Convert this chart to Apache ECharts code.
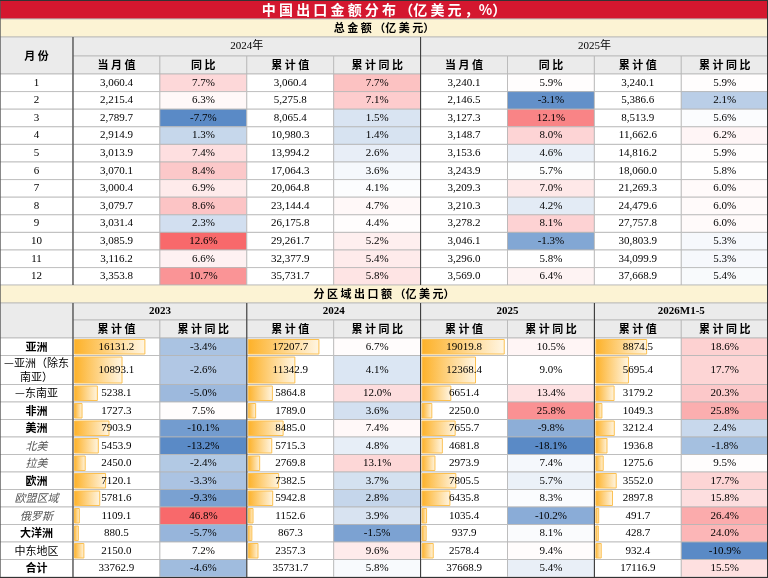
<!DOCTYPE html>
<html><head><meta charset="utf-8">
<script src="https://cdn.jsdelivr.net/npm/echarts@6/dist/echarts.min.js"></script>
<style>html,body{margin:0;padding:0;background:#fff}#chart{width:768px;height:578px}</style>
</head><body><div id="chart"></div>
<script>
// 上半部分：月度总金额
var months = ['1','2','3','4','5','6','7','8','9','10','11','12'];
var m2024 = [3060.4,2215.4,2789.7,2914.9,3013.9,3070.1,3000.4,3079.7,3031.4,3085.9,3116.2,3353.8];
var yoy2024 = [7.7,6.3,-7.7,1.3,7.4,8.4,6.9,8.6,2.3,12.6,6.6,10.7];
var cum2024 = [3060.4,5275.8,8065.4,10980.3,13994.2,17064.3,20064.8,23144.4,26175.8,29261.7,32377.9,35731.7];
var cumYoy2024 = [7.7,7.1,1.5,1.4,2.6,3.6,4.1,4.7,4.4,5.2,5.4,5.8];
var m2025 = [3240.1,2146.5,3127.3,3148.7,3153.6,3243.9,3209.3,3210.3,3278.2,3046.1,3296.0,3569.0];
var yoy2025 = [5.9,-3.1,12.1,8.0,4.6,5.7,7.0,4.2,8.1,-1.3,5.8,6.4];
var cum2025 = [3240.1,5386.6,8513.9,11662.6,14816.2,18060.0,21269.3,24479.6,27757.8,30803.9,34099.9,37668.9];
var cumYoy2025 = [5.9,2.1,5.6,6.2,5.9,5.8,6.0,6.0,6.0,5.3,5.3,5.4];

// 下半部分：分区域累计值
var regions = ['亚洲','—亚洲（除东\n南亚）','—东南亚','非洲','美洲','北美','拉美','欧洲','欧盟区域','俄罗斯','大洋洲','中东地区','合计'];
var regionYears = ['2023','2024','2025','2026M1-5'];
var rc2023 = [16131.2,10893.1,5238.1,1727.3,7903.9,5453.9,2450.0,7120.1,5781.6,1109.1,880.5,2150.0,33762.9];
var ry2023 = [-3.4,-2.6,-5.0,7.5,-10.1,-13.2,-2.4,-3.3,-9.3,46.8,-5.7,7.2,-4.6];
var rc2024 = [17207.7,11342.9,5864.8,1789.0,8485.0,5715.3,2769.8,7382.5,5942.8,1152.6,867.3,2357.3,35731.7];
var ry2024 = [6.7,4.1,12.0,3.6,7.4,4.8,13.1,3.7,2.8,3.9,-1.5,9.6,5.8];
var rc2025 = [19019.8,12368.4,6651.4,2250.0,7655.7,4681.8,2973.9,7805.5,6435.8,1035.4,937.9,2578.4,37668.9];
var ry2025 = [10.5,9.0,13.4,25.8,-9.8,-18.1,7.4,5.7,8.3,-10.2,8.1,9.4,5.4];
var rc2026 = [8874.5,5695.4,3179.2,1049.3,3212.4,1936.8,1275.6,3552.0,2897.8,491.7,428.7,932.4,17116.9];
var ry2026 = [18.6,17.7,20.3,25.8,2.4,-1.8,9.5,17.7,15.8,26.4,24.0,-10.9,15.5];

// 样式
var FONT = '"Liberation Serif", "Noto Sans CJK SC", serif';
var CJK = '"Noto Sans CJK SC", serif';
var RED = [248,105,107], BLUE = [90,138,198];
var X0 = 73, CW = 86.9;

function fmt(v, comma){
	var s = v.toFixed(1);
	if(comma){ s = s.replace(/\B(?=(\d{3})+(?!\d))/g, ','); }
	return s;
}
function mix(a, t){
	t = Math.max(0, Math.min(1, t));
	var r = Math.round(255 + (a[0]-255)*t), g = Math.round(255 + (a[1]-255)*t), b = Math.round(255 + (a[2]-255)*t);
	return 'rgb(' + r + ',' + g + ',' + b + ')';
}
// 三色阶：最小蓝，中点白，最大红（可指定色阶范围）
function heat(arr, mid, lo, hi){
	var mn = lo != null ? lo : Math.min.apply(null, arr), mx = hi != null ? hi : Math.max.apply(null, arr);
	return arr.map(function(v){
		if(v >= mid) return mix(RED, mx === mid ? 0 : (v-mid)/(mx-mid));
		return mix(BLUE, (mid-v)/(mid-mn));
	});
}

var cells = [];
function cell(x, y, w, h, o){
	o = o || {};
	o.x = x; o.y = y; o.w = w; o.h = h;
	cells.push(o);
}

// 标题与表头
cell(0, 0, 768, 19, {fill:'#d4172f', text:'中 国 出 口 金 额 分 布 （亿 美 元 ，%）', color:'#fff', bold:true, size:14, font:CJK});
cell(0, 19, 768, 18, {fill:'#fcf3d4', text:'总 金 额 （亿 美 元）', bold:true, font:CJK});
cell(0, 37, X0, 37, {fill:'#ebebeb', text:'月 份', bold:true, font:CJK});
cell(X0, 37, CW*4, 19, {fill:'#ebebeb', text:'2024年'});
cell(X0+CW*4, 37, CW*4, 19, {fill:'#ebebeb', text:'2025年'});
var sub = ['当 月 值','同 比','累 计 值','累 计 同 比'];
for(var i = 0; i < 8; i++){
	cell(X0+CW*i, 56, CW, 18, {fill:'#ebebeb', text:sub[i%4], bold:true, font:CJK});
}
var topCols = [
	{d:m2024, c:true}, {d:yoy2024, p:true, mid:6, lo:-7.7, hi:12.6}, {d:cum2024, c:true}, {d:cumYoy2024, p:true, mid:4.3, lo:-7.7, hi:12.6},
	{d:m2025, c:true}, {d:yoy2025, p:true, mid:5.8, lo:-3.6, hi:13.5}, {d:cum2025, c:true}, {d:cumYoy2025, p:true, mid:5.8, lo:-3.1, hi:12.1}
];
var RH = 17.6;
months.forEach(function(m, r){
	var y = 74 + r*RH;
	cell(0, y, X0, RH, {text:m});
	topCols.forEach(function(col, c){
		var fills = col.p ? heat(col.d, col.mid, col.lo, col.hi) : null;
		cell(X0+CW*c, y, CW, RH, {fill: fills ? fills[r] : '#fff', text: fmt(col.d[r], col.c) + (col.p ? '%' : '')});
	});
});

// 分区域
var Y1 = 285;
cell(0, Y1, 768, 18, {fill:'#fcf3d4', text:'分 区 域 出 口 额 （亿 美 元）', bold:true, font:CJK});
cell(0, Y1+18, X0, 35, {fill:'#ebebeb'});
regionYears.forEach(function(yr, i){
	cell(X0+CW*2*i, Y1+18, CW*2, 17, {fill:'#ebebeb', text:yr, bold:true});
	cell(X0+CW*2*i, Y1+35, CW, 18, {fill:'#ebebeb', text:'累 计 值', bold:true, font:CJK});
	cell(X0+CW*(2*i+1), Y1+35, CW, 18, {fill:'#ebebeb', text:'累 计 同 比', bold:true, font:CJK});
});
// [累计值, 累计同比, 中点, 色阶下限, 色阶上限, 数据条满格值]
var regCols = [
	[rc2023, ry2023, 7, null, null, 19000],
	[rc2024, ry2024, 6.2, -3.5, 32, 20200],
	[rc2025, ry2025, 9, null, 32, 19200],
	[rc2026, ry2026, 9, null, 40, 14500]
];
var styles = ['b','n','n','b','b','i','i','b','i','i','b','n','b'];
var y = Y1 + 53;
regions.forEach(function(name, r){
	var h = r === 1 ? 29 : 17.5;
	var st = styles[r];
	cell(0, y, X0, h, {text: name, font:CJK, bold: st === 'b', italic: st === 'i', color: st === 'i' ? '#555' : '#000'});
	regCols.forEach(function(col, i){
		var fills = heat(col[1], col[2], col[3], col[4]);
		var isTotal = r === regions.length - 1;
		cell(X0+CW*2*i, y, CW, h, {text: fmt(col[0][r]), bar: isTotal ? 0 : col[0][r]/col[5]});
		cell(X0+CW*(2*i+1), y, CW, h, {fill: fills[r], text: fmt(col[1][r]) + '%'});
	});
	y += h;
});

// 粗分隔线
var lines = [
	[X0, 37, X0, 285], [X0+CW*4, 37, X0+CW*4, 285],
	[X0, 303, X0, 578], [X0+CW*2, 303, X0+CW*2, 578], [X0+CW*4, 303, X0+CW*4, 578], [X0+CW*6, 303, X0+CW*6, 578],
	[0, 0, 0, 578], [767.5, 0, 767.5, 578], [0, 577.5, 768, 577.5], [0, 0.5, 768, 0.5]
];

function renderItem(params, api){
	var c = cells[api.value(0)];
	var ch = [];
	ch.push({type:'rect', shape:{x:c.x, y:c.y, width:c.w, height:c.h},
		style:{fill:c.fill || '#fff', stroke:'#b5b5b5', lineWidth:0.8}});
	if(c.bar){
		var bw = (c.w - 4) * Math.min(c.bar, 1);
		ch.push({type:'rect', shape:{x:c.x+1.5, y:c.y+1.5, width:bw, height:c.h-3},
			style:{fill:new echarts.graphic.LinearGradient(0,0,1,0,[{offset:0,color:'#fdb128'},{offset:1,color:'#fff6e4'}]),
				stroke:'#fcc050', lineWidth:1}});
	}
	if(c.text){
		ch.push({type:'text', style:{x:c.x+c.w/2, y:c.y+c.h/2, text:c.text, align:'center', verticalAlign:'middle',
			fill:c.color || '#000', fontFamily:c.font || FONT, fontSize:c.size || 11,
			fontWeight:c.bold ? 'bold' : 'normal', fontStyle:c.italic ? 'italic' : 'normal', lineHeight:14}});
	}
	return {type:'group', children:ch};
}

var myChart = echarts.init(document.getElementById('chart'));
var option = {
	animation:false,
	series:[{
		type:'custom',
		coordinateSystem:'none',
		renderItem:renderItem,
		data:cells.map(function(c, i){ return [i]; })
	}],
	graphic: lines.map(function(l){
		return {type:'line', shape:{x1:l[0], y1:l[1], x2:l[2], y2:l[3]}, style:{stroke:'#333', lineWidth:1}, z:100};
	})
};
myChart.setOption(option);
</script></body></html>
